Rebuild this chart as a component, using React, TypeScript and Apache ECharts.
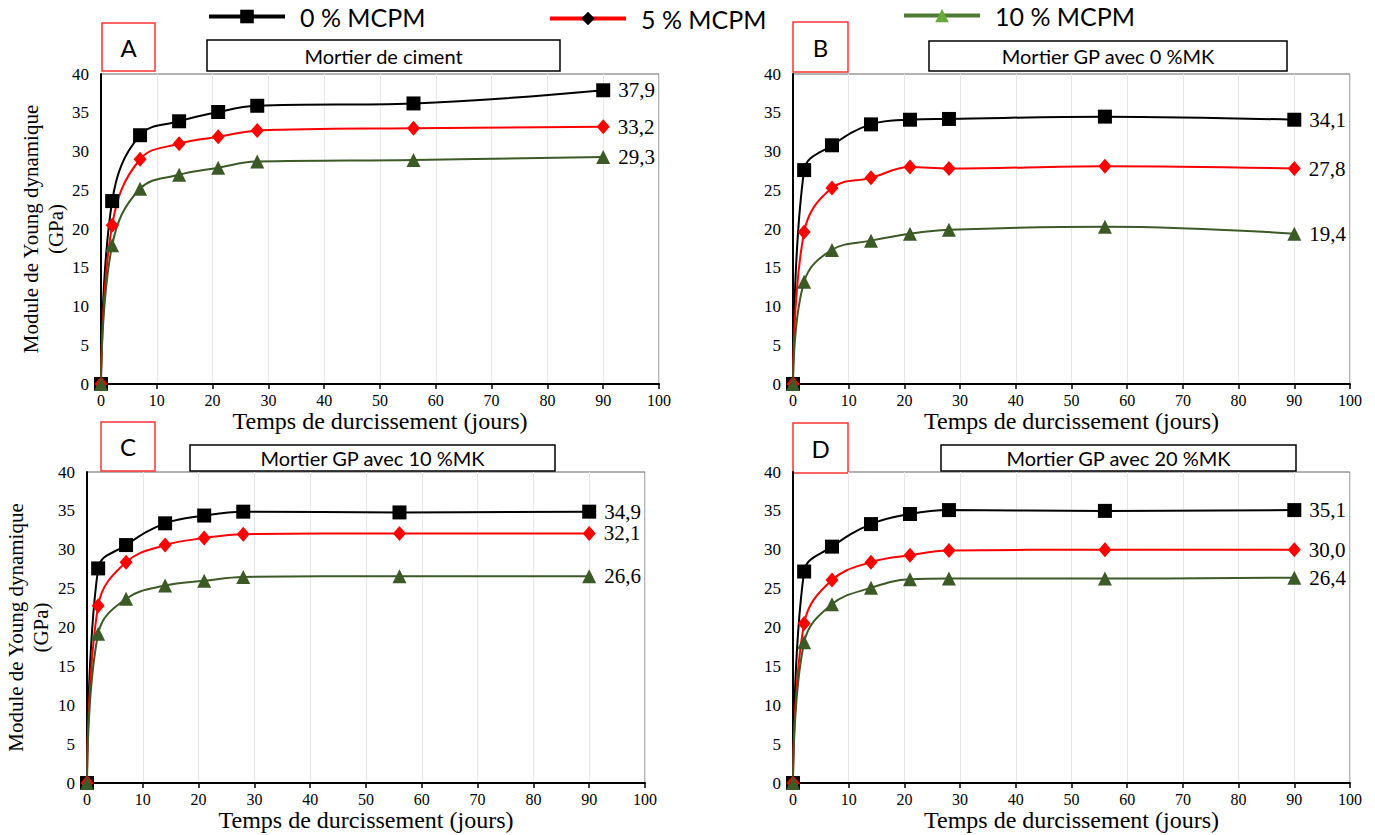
import React, { useEffect, useRef } from "react";
import * as echarts from "echarts";

// ---- data ----
const DAYS = [0, 2, 7, 14, 21, 28, 56, 90];
const SERIES_NAMES = ["0 % MCPM", "5 % MCPM", "10 % MCPM"];
const PANEL_TAGS = ["A", "B", "C", "D"];
const PANEL_TITLES = [
  "Mortier de ciment",
  "Mortier GP avec 0 %MK",
  "Mortier GP avec 10 %MK",
  "Mortier GP avec 20 %MK",
];
// Panel A
const A_0 = [0, 23.6, 32.1, 33.9, 35.1, 35.9, 36.2, 37.9];
const A_5 = [0, 20.5, 29.0, 31.0, 31.9, 32.7, 33.0, 33.2];
const A_10 = [0, 17.9, 25.2, 27.0, 27.9, 28.7, 28.9, 29.3];
// Panel B
const B_0 = [0, 27.6, 30.8, 33.5, 34.1, 34.2, 34.5, 34.1];
const B_5 = [0, 19.6, 25.3, 26.6, 28.0, 27.8, 28.1, 27.8];
const B_10 = [0, 13.2, 17.3, 18.5, 19.4, 19.9, 20.3, 19.4];
// Panel C
const C_0 = [0, 27.6, 30.6, 33.4, 34.4, 34.9, 34.8, 34.9];
const C_5 = [0, 22.8, 28.4, 30.6, 31.5, 32.0, 32.1, 32.1];
const C_10 = [0, 19.2, 23.7, 25.4, 26.0, 26.5, 26.6, 26.6];
// Panel D
const D_0 = [0, 27.2, 30.4, 33.3, 34.6, 35.1, 35.0, 35.1];
const D_5 = [0, 20.5, 26.1, 28.4, 29.3, 29.9, 30.0, 30.0];
const D_10 = [0, 18.1, 23.0, 25.1, 26.2, 26.3, 26.3, 26.4];

const PANEL_DATA = [
  [A_0, A_5, A_10],
  [B_0, B_5, B_10],
  [C_0, C_5, C_10],
  [D_0, D_5, D_10],
];

const X_TICKS = { min: 0, max: 100, interval: 10 };
const Y_TICKS = { min: 0, max: 40, interval: 5 };

// ---- styles ----
const COLORS = ["#000000", "#ff0000", "#3b5a26"];
const SYMBOLS = ["rect", "diamond", "triangle"];
const SYMBOL_SIZES: any[] = [14, [13, 15], 14];
const SERIF = "'Liberation Serif', 'Times New Roman', serif";
const SANS = "Lato, 'Open Sans', sans-serif";

const GRIDS = [
  { left: 101, top: 74, width: 558, height: 310 },
  { left: 793, top: 74, width: 557, height: 310 },
  { left: 87, top: 472, width: 558, height: 311 },
  { left: 793, top: 472, width: 557, height: 311 },
];
const TAG_BOXES = [
  { x: 102, y: 23, w: 53, h: 48 },
  { x: 793, y: 22, w: 55, h: 50 },
  { x: 101, y: 422, w: 54, h: 49 },
  { x: 793, y: 423, w: 55, h: 50 },
];
const TITLE_BOXES = [
  { x: 207, y: 40, w: 353, h: 31 },
  { x: 929, y: 41, w: 358, h: 30 },
  { x: 190, y: 445, w: 365, h: 26 },
  { x: 941, y: 445, w: 355, h: 26 },
];
const Y_NAME_GAP = [32, 0, 34, 0];

export default function App() {
  const ref = useRef<HTMLDivElement>(null);
  useEffect(() => {
    if (!ref.current) return;
    const chart = echarts.init(ref.current, null, { renderer: "svg" });

    const grids = GRIDS.map((g) => ({
      ...g,
      show: true,
      borderColor: "#666",
      borderWidth: 1,
      containLabel: false,
    }));

    const xAxes = GRIDS.map((_, i) => ({
      type: "value",
      gridIndex: i,
      ...X_TICKS,
      name: "Temps de durcissement (jours)",
      nameLocation: "middle",
      nameGap: 24,
      nameTextStyle: { fontFamily: SERIF, fontSize: 24, color: "#000" },
      axisLine: { show: true, onZero: false, lineStyle: { color: "#000", width: 2 } },
      axisTick: { show: true, length: 5, lineStyle: { color: "#000", width: 1.5 } },
      axisLabel: { fontFamily: SERIF, fontSize: 16, color: "#000", margin: 8 },
      splitLine: { show: true, lineStyle: { color: "#e6e6e6", width: 1 } },
    }));

    const yAxes = GRIDS.map((_, i) => ({
      type: "value",
      gridIndex: i,
      ...Y_TICKS,
      name: i % 2 === 0 ? "Module de Young dynamique\n(GPa)" : "",
      nameLocation: "middle",
      nameGap: Y_NAME_GAP[i],
      nameTextStyle: { fontFamily: SERIF, fontSize: 21, color: "#000", lineHeight: 25 },
      axisLine: { show: true, onZero: false, lineStyle: { color: "#000", width: 2 } },
      axisTick: { show: false },
      axisLabel: { fontFamily: SERIF, fontSize: 17, color: "#000", margin: 12 },
      splitLine: { show: false },
    }));

    const series: any[] = [];
    PANEL_DATA.forEach((panel, p) => {
      panel.forEach((vals, s) => {
        const last = vals.length - 1;
        series.push({
          type: "line",
          name: SERIES_NAMES[s],
          xAxisIndex: p,
          yAxisIndex: p,
          smooth: 0.4,
          symbol: SYMBOLS[s],
          symbolSize: SYMBOL_SIZES[s],
          lineStyle: { color: COLORS[s], width: 2 },
          itemStyle: { color: COLORS[s] },
          label: {
            show: false,
            position: "right",
            distance: 8,
            fontFamily: SERIF,
            fontSize: 21,
            lineHeight: 19,
            color: "#000",
            formatter: (pr: any) => Number(pr.value[1]).toFixed(1).replace(".", ","),
          },
          data: DAYS.map((d, k) =>
            k === last ? { value: [d, vals[k]], label: { show: true } } : [d, vals[k]]
          ),
        });
      });
    });

    const legendPos = [
      { left: 207, top: 4 },
      { left: 548, top: 6 },
      { left: 902, top: 3 },
    ];
    const legends = SERIES_NAMES.map((n, i) => ({
      data: [n],
      ...legendPos[i],
      padding: 0,
      itemWidth: 76,
      itemHeight: 17,
      selectedMode: false,
      lineStyle: i === 2 ? { width: 4, color: "#4f7a33" } : { width: 4 },
      itemStyle: i === 2 ? { color: "#6aaa3c" } : undefined,
      textStyle: { fontFamily: SANS, fontSize: 25, color: "#000", padding: [0, 0, 0, 10] },
    }));

    const graphic: any[] = [];
    TAG_BOXES.forEach((b, i) => {
      graphic.push({
        type: "rect",
        shape: { x: b.x, y: b.y, width: b.w, height: b.h },
        style: { fill: "#fff", stroke: "#ff3333", lineWidth: 1.5 },
      });
      graphic.push({
        type: "text",
        x: b.x + b.w / 2,
        y: b.y + b.h / 2,
        style: {
          text: PANEL_TAGS[i],
          fontFamily: SANS,
          fontSize: 24,
          fill: "#000",
          align: "center",
          verticalAlign: "middle",
        },
      });
    });
    TITLE_BOXES.forEach((b, i) => {
      graphic.push({
        type: "rect",
        shape: { x: b.x, y: b.y, width: b.w, height: b.h },
        style: { fill: "#fff", stroke: "#000", lineWidth: 1.5 },
      });
      graphic.push({
        type: "text",
        x: b.x + b.w / 2,
        y: b.y + b.h / 2,
        style: {
          text: PANEL_TITLES[i],
          fontFamily: SANS,
          fontSize: 20,
          fill: "#000",
          align: "center",
          verticalAlign: "middle",
        },
      });
    });

    chart.setOption({
      animation: false,
      backgroundColor: "#fff",
      grid: grids,
      xAxis: xAxes,
      yAxis: yAxes,
      legend: legends,
      series,
      graphic,
    });
    return () => chart.dispose();
  }, []);

  return (
    <div
      ref={ref}
      style={{ position: "fixed", left: 0, top: 0, width: 1375, height: 835 }}
    />
  );
}
